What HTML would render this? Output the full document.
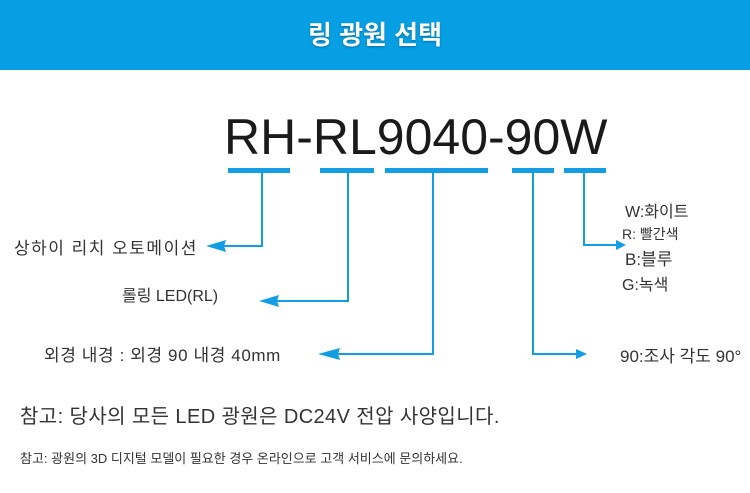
<!DOCTYPE html>
<html><head><meta charset="utf-8"><style>
body{margin:0;width:750px;height:493px;background:#fff;position:relative;overflow:hidden;font-family:"Liberation Sans","Noto Sans CJK KR",sans-serif;color:#333}
.hd{position:absolute;left:0;top:0;width:750px;height:70px;background:#069fe4}
.t{position:absolute;white-space:nowrap}
</style></head><body>
<div class="hd"></div>
<div class="t" style="left:0;width:750px;top:15px;text-align:center;color:#fff;font-size:26px;font-weight:bold;text-shadow:0 1px 2px rgba(0,0,0,.3)">링 광원 선택</div>
<div class="t" style="left:224px;top:108px;font-size:50px;color:#1a1a1a;letter-spacing:0px">RH-RL9040-90W</div>
<svg style="position:absolute;left:0;top:0" width="750" height="493">
<g fill="#139de3">
<rect x="228" y="168" width="62" height="5"/><rect x="320" y="168" width="54" height="5"/>
<rect x="385" y="168" width="103" height="5"/><rect x="512" y="168" width="42" height="5"/>
<rect x="564" y="168" width="42" height="5"/>
</g>
<g fill="none" stroke="#139de3" stroke-width="2">
<polyline points="262,173 262,246 215,246"/>
<polyline points="348,173 348,301 268,301"/>
<polyline points="433,173 433,354 328,354"/>
<polyline points="533,173 533,354 578,354"/>
<polyline points="584,173 584,245 618,245"/>
</g>
<g fill="#139de3">
<polygon points="206,246 226,240 224,246 226,252"/>
<polygon points="259,301 279,295 277,301 279,307"/>
<polygon points="318,354 340,348 338,354 340,360"/>
<polygon points="587,354 576,349 576,359"/>
<polygon points="626,245 616,240 616,250"/>
</g>
</svg>
<div class="t" style="left:14px;top:234px;font-size:17px;letter-spacing:1.5px">상하이 리치 오토메이션</div>
<div class="t" style="left:122px;top:282px;font-size:16px">롤링 LED(RL)</div>
<div class="t" style="left:44px;top:341px;font-size:17px;letter-spacing:0.6px">외경 내경 : 외경 90 내경 40mm</div>
<div class="t" style="left:620px;top:342px;font-size:17px">90:조사 각도 90°</div>
<div class="t" style="left:625px;top:198px;font-size:16px">W:화이트</div>
<div class="t" style="left:622px;top:224px;font-size:14px">R: 빨간색</div>
<div class="t" style="left:625px;top:245px;font-size:17px">B:블루</div>
<div class="t" style="left:622px;top:271px;font-size:16px">G:녹색</div>
<div class="t" style="left:20px;top:400px;font-size:20px;letter-spacing:0.4px">참고: 당사의 모든 LED 광원은 DC24V 전압 사양입니다.</div>
<div class="t" style="left:20px;top:448px;font-size:13px">참고: 광원의 3D 디지털 모델이 필요한 경우 온라인으로 고객 서비스에 문의하세요.</div>
</body></html>
